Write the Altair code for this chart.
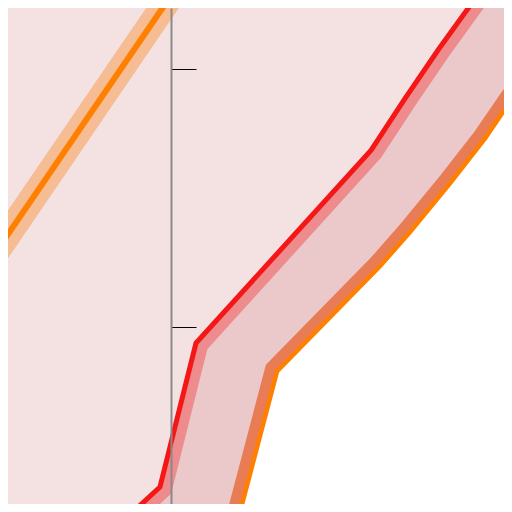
import altair as alt
import pandas as pd

# (data units: the axis sits at x = 0, ticks at y = 10 and 20)
red_x = [12.33, 11.75, 10.35, 9.03, 7.75, 0.95, -0.45, -1.50, -2.19]
red_y = [23.46, 22.68, 20.74, 18.80, 16.85, 9.36, 3.77, 2.80, 2.06]

orange_x = [14.12, 13.22, 12.18, 10.82, 9.26, 8.10, 4.10, 2.66, 2.47]
orange_y = [20.04, 18.84, 17.32, 15.57, 13.67, 12.35, 8.27, 2.80, 2.06]

slant_x = [-7.44, -6.66, -0.14, 0.52]
slant_y = [12.00, 13.13, 22.68, 23.65]

y_ticks = [10, 20]
x_domain = [-6.35, 12.91]
y_domain = [3.11, 22.37]

red = pd.DataFrame({"x": red_x, "y": red_y})
orange = pd.DataFrame({"x": orange_x, "y": orange_y})
slant = pd.DataFrame({"x": slant_x, "y": slant_y})

xs = alt.Scale(domain=x_domain, nice=False, zero=False)
ys = alt.Scale(domain=y_domain, nice=False, zero=False)
yaxis = alt.Axis(orient="right", offset=-333, values=y_ticks, labels=False, title=None,
                 tickSize=25, tickColor="#000000", tickWidth=1,
                 domainColor="#8a8a8a", domainWidth=2, grid=False, zindex=1)

X = alt.X("x:Q", scale=xs, axis=None)
Y = alt.Y("y:Q", scale=ys, axis=yaxis)


def area(df, color, edge):
    return alt.Chart(df).mark_area(orient="horizontal", clip=True, color=color,
                                   opacity=1).encode(x=X, x2=alt.datum(edge), y=Y)


def line(df, color, width):
    return alt.Chart(df).mark_line(clip=True, color=color, strokeWidth=width,
                                   strokeJoin="miter").encode(x=X, y=Y)


chart = alt.layer(
    area(red, "#ebc9ca", 30),
    line(red, "#ee8b8d", 25),
    area(red, "#f4e2e3", -20),
    line(orange, "#e77c55", 25),
    area(orange, "#ffffff", 30),
    line(red, "#f51616", 5),
    line(orange, "#ff8000", 4.5),
    line(slant, "#f6bc94", 27),
    line(slant, "#ff8000", 6),
).properties(
    width=496, height=496,
    autosize=alt.AutoSizeParams(type="none"),
    padding=0,
).configure_view(fill="#f4e2e3", strokeWidth=0)

chart.save("out.html", embed_options={"renderer": "svg", "actions": False})
